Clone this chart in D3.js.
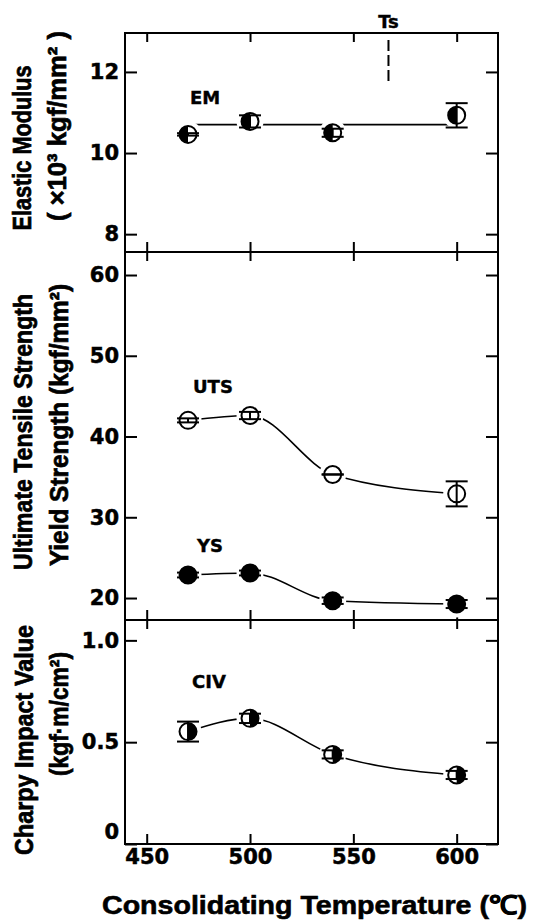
<!DOCTYPE html>
<html>
<head>
<meta charset="utf-8">
<script src="https://cdn.jsdelivr.net/npm/d3@7"></script>
<style>
  body { margin: 0; background: #fff; }
  svg { display: block; }
</style>
</head>
<body>
<div class="usable"></div>
<script>
// datos
const temps = [470, 500, 540, 600]
const emVals = [10.46, 10.78, 10.5, 10.93]
const emErr = [0.03, 0.15, 0.1, 0.3]
const emFit = 10.7
const utsVals = [42.0, 42.6, 35.3, 32.9]
const utsErr = [0.25, 0.45, 0.02, 1.55]
const ysVals = [22.85, 23.1, 19.67, 19.26]
const ysErr = [0.3, 0.3, 0.4, 0.5]
const civVals = [0.552, 0.617, 0.44, 0.339]
const civErr = [0.049, 0.023, 0.02, 0.02]
const tsTemp = 567

const xTicks = [450, 500, 550, 600]
const emTicks = [8, 10, 12]
const strTicks = [20, 30, 40, 50, 60]
const civTicks = [0, 0.5, 1.0]

const width = 533,
  height = 921

const left = 125, right = 498
const tickFont = "DejaVu Sans"
const textFont = "Liberation Sans, Arial, sans-serif"

let svg = d3.select(".usable").append("svg")
  .attr("width", width)
  .attr("height", height)

svg.append("rect").attr("width", width).attr("height", height).attr("fill", "#fff")

const x = d3.scaleLinear().domain([439.5, 620]).range([left, right])
const yEM = d3.scaleLinear().domain([7.56, 12.96]).range([252, 33])
const yStr = d3.scaleLinear().domain([17.28, 62.85]).range([620, 252])
const yCIV = d3.scaleLinear().domain([0, 1.1]).range([844, 620])

function estilo(g) {
  g.select(".domain").remove()
  g.selectAll(".tick line").attr("stroke", "#000").attr("stroke-width", 2)
  g.selectAll(".tick text")
    .attr("fill", "#000")
    .attr("stroke", "#000").attr("stroke-width", 0.5)
    .attr("font-family", tickFont)
    .attr("font-weight", "bold")
    .attr("font-size", 21)
}

function panel(y, ticks, fmt, conEtiquetasX) {
  let [y0, y1] = y.range()
  svg.append("g").attr("transform", "translate(" + left + ",0)")
    .call(d3.axisLeft(y).tickValues(ticks).tickFormat(fmt).tickSize(-12).tickPadding(6))
    .call(estilo)
  svg.append("g").attr("transform", "translate(" + right + ",0)")
    .call(d3.axisRight(y).tickValues(ticks).tickFormat("").tickSize(-12))
    .call(estilo)
  svg.append("g").attr("transform", "translate(0," + y1 + ")")
    .call(d3.axisTop(x).tickValues(xTicks).tickFormat("").tickSize(-9))
    .call(estilo)
  svg.append("g").attr("transform", "translate(0," + y0 + ")")
    .call(d3.axisBottom(x).tickValues(xTicks).tickFormat(conEtiquetasX ? d3.format("d") : "").tickSize(-10).tickPadding(5))
    .call(estilo)
  svg.append("rect")
    .attr("x", left).attr("y", y1)
    .attr("width", right - left).attr("height", y0 - y1)
    .attr("fill", "none").attr("stroke", "#000").attr("stroke-width", 2)
}

panel(yEM, emTicks, d3.format("d"), false)
panel(yStr, strTicks, d3.format("d"), false)
panel(yCIV, civTicks, d => d === 0 ? "0" : d.toFixed(1), true)

// el "0" esta un poco mas arriba en el original
svg.selectAll(".tick text").filter(d => d === 0).attr("y", -12)

const r = 8.5

function curva(y, vals, tipo) {
  let pts = temps.map((t, i) => [x(t), y(vals[i])])
  let gen = d3.line().curve(tipo)
  svg.append("path").attr("d", gen(pts))
    .attr("fill", "none").attr("stroke", "#000").attr("stroke-width", 1.6)
}

function marcadores(y, vals, errs, relleno) {
  let g = svg.append("g")
  temps.forEach((t, i) => {
    let cx = x(t), cy = y(vals[i])
    // hueco blanco alrededor del punto
    g.append("circle").attr("cx", cx).attr("cy", cy).attr("r", r + 5).attr("fill", "#fff")
  })
  temps.forEach((t, i) => {
    let cx = x(t), cy = y(vals[i])
    let m = g.append("g").attr("transform", "translate(" + cx + "," + cy + ")")
    m.append("circle").attr("r", r)
      .attr("fill", relleno == "full" ? "#000" : "#fff")
      .attr("stroke", "#000").attr("stroke-width", 2)
    if (relleno == "left" || relleno == "right") {
      let sweep = relleno == "right" ? 1 : 0
      m.append("path")
        .attr("d", "M0," + (-r) + " A" + r + "," + r + " 0 0 " + sweep + " 0," + r + " Z")
        .attr("fill", "#000")
    }
    // barra de error
    let ya = y(vals[i] + errs[i]), yb = y(vals[i] - errs[i])
    g.append("line").attr("x1", cx).attr("x2", cx).attr("y1", ya).attr("y2", yb)
      .attr("stroke", "#000").attr("stroke-width", 2)
    g.append("line").attr("x1", cx - 11).attr("x2", cx + 11).attr("y1", ya).attr("y2", ya)
      .attr("stroke", "#000").attr("stroke-width", 2)
    g.append("line").attr("x1", cx - 11).attr("x2", cx + 11).attr("y1", yb).attr("y2", yb)
      .attr("stroke", "#000").attr("stroke-width", 2)
  })
}

// EM: linea horizontal
svg.append("line")
  .attr("x1", x(temps[0])).attr("x2", x(temps[temps.length - 1]))
  .attr("y1", yEM(emFit)).attr("y2", yEM(emFit))
  .attr("stroke", "#000").attr("stroke-width", 1.6)
marcadores(yEM, emVals, emErr, "left")

curva(yStr, utsVals, d3.curveMonotoneX)
curva(yStr, ysVals, d3.curveMonotoneX)
marcadores(yStr, utsVals, utsErr, "open")
marcadores(yStr, ysVals, ysErr, "full")

curva(yCIV, civVals, d3.curveMonotoneX)
marcadores(yCIV, civVals, civErr, "right")

// Ts
svg.append("line")
  .attr("x1", x(tsTemp)).attr("x2", x(tsTemp))
  .attr("y1", 40).attr("y2", 82)
  .attr("stroke", "#000").attr("stroke-width", 2)
  .attr("stroke-dasharray", "11,4")
svg.append("text").text("Ts")
  .attr("x", x(tsTemp)).attr("y", 21)
  .attr("text-anchor", "middle").attr("dominant-baseline", "central")
  .attr("stroke", "#000").attr("stroke-width", 0.4)
  .attr("font-family", tickFont).attr("font-weight", "bold").attr("font-size", 18)

// etiquetas de las series
function etiqueta(txt, xx, yy) {
  svg.append("text").text(txt)
    .attr("x", xx).attr("y", yy)
    .attr("dominant-baseline", "central")
    .attr("stroke", "#000").attr("stroke-width", 0.4)
    .attr("font-family", tickFont).attr("font-weight", "bold").attr("font-size", 18)
}
etiqueta("EM", 190, 97)
etiqueta("UTS", 193, 386)
etiqueta("YS", 197, 545)
etiqueta("CIV", 192, 681)

// titulos de los ejes
function tituloY(txt, cx, cy, largo) {
  svg.append("text").text(txt)
    .attr("transform", "translate(" + cx + "," + cy + ") rotate(-90)")
    .attr("text-anchor", "middle").attr("dominant-baseline", "central")
    .attr("textLength", largo).attr("lengthAdjust", "spacingAndGlyphs")
    .attr("stroke", "#000").attr("stroke-width", 0.7)
    .attr("font-family", textFont).attr("font-weight", "bold").attr("font-size", 25)
}
tituloY("Elastic  Modulus", 22, 148, 165)
tituloY("( ×10³ kgf/mm² )", 57, 126, 190)
tituloY("Ultimate  Tensile  Strength", 23, 432, 276)
tituloY("Yield  Strength  (kgf/mm²)", 59, 425, 282)
tituloY("Charpy  Impact  Value", 24, 740, 230)
tituloY("(kgf·m/cm²)", 59, 714, 124)

svg.append("text").text("Consolidating  Temperature  (℃)")
  .attr("x", 102).attr("y", 905)
  .attr("dominant-baseline", "central")
  .attr("textLength", 425).attr("lengthAdjust", "spacingAndGlyphs")
  .attr("stroke", "#000").attr("stroke-width", 0.6)
  .attr("font-family", textFont).attr("font-weight", "bold").attr("font-size", 26)
</script>
</body>
</html>
